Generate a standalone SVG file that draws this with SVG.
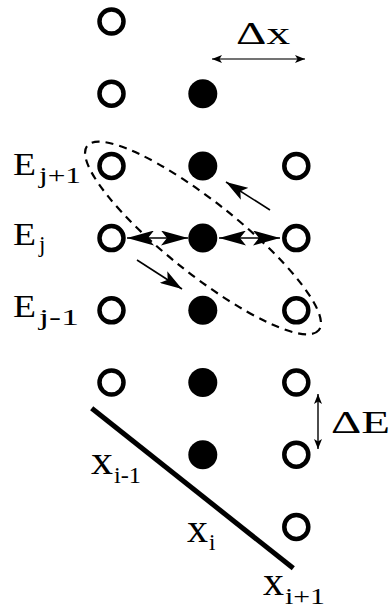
<svg xmlns="http://www.w3.org/2000/svg" width="391" height="608" viewBox="0 0 391 608">
<style>
.o{fill:none;stroke:#000;stroke-width:4.5}
.f{fill:#000}
.t{font-family:"Liberation Serif","DejaVu Serif",serif;fill:#000}
.big{font-size:32px}
.xl{font-size:40px}
.sub{font-size:23px}
.ar{stroke:#000;stroke-width:1.3;fill:none}
</style>
<defs>
<marker id="hb" viewBox="0 0 27 15" refX="27" refY="7.5" markerWidth="27" markerHeight="15" markerUnits="userSpaceOnUse" orient="auto-start-reverse"><path d="M0,0 L27,7.5 L0,15 L6,7.5 Z" fill="#000"/></marker>
<marker id="hm" viewBox="0 0 22 14" refX="22" refY="7" markerWidth="22" markerHeight="14" markerUnits="userSpaceOnUse" orient="auto-start-reverse"><path d="M0,0 L22,7 L0,14 L5,7 Z" fill="#000"/></marker>
<marker id="hs" viewBox="0 0 10 8" refX="10" refY="4" markerWidth="10" markerHeight="8" markerUnits="userSpaceOnUse" orient="auto-start-reverse"><path d="M0,0 L10,4 L0,8 L2.5,4 Z" fill="#000"/></marker>
</defs>
<rect width="391" height="608" fill="#fff"/>
<g id="col1">
<g id="a1"><circle class="o" cx="111.5" cy="21.5" r="12"/></g>
<g id="a2"><circle class="o" cx="111.5" cy="93.7" r="12"/></g>
<g id="a3"><circle class="o" cx="111.5" cy="165.9" r="12"/></g>
<g id="a4"><circle class="o" cx="111.5" cy="238.1" r="12"/></g>
<g id="a5"><circle class="o" cx="111.5" cy="310.3" r="12"/></g>
<g id="a6"><circle class="o" cx="111.5" cy="382.5" r="12"/></g>
</g>
<g id="col2">
<g id="b2"><circle class="f" cx="202.8" cy="93.7" r="14.5"/></g>
<g id="b3"><circle class="f" cx="202.8" cy="165.9" r="14.5"/></g>
<g id="b4"><circle class="f" cx="202.8" cy="238.1" r="14.5"/></g>
<g id="b5"><circle class="f" cx="202.8" cy="310.3" r="14.5"/></g>
<g id="b6"><circle class="f" cx="202.8" cy="382.5" r="14.5"/></g>
<g id="b7"><circle class="f" cx="202.8" cy="454.7" r="14.5"/></g>
</g>
<g id="col3">
<g id="c3"><circle class="o" cx="296.3" cy="165.9" r="12"/></g>
<g id="c4"><circle class="o" cx="296.3" cy="238.1" r="12"/></g>
<g id="c5"><circle class="o" cx="296.3" cy="310.3" r="12"/></g>
<g id="c6"><circle class="o" cx="296.3" cy="382.5" r="12"/></g>
<g id="c7"><circle class="o" cx="296.3" cy="454.7" r="12"/></g>
<g id="c8"><circle class="o" cx="296.3" cy="526.9" r="12"/></g>
</g>
<g id="stencil">
<ellipse cx="203" cy="238" rx="148" ry="36" transform="rotate(38.5 203 238)" fill="none" stroke="#000" stroke-width="2.2" stroke-dasharray="8 6"/>
</g>
<g id="boundary">
<line x1="91.7" y1="408.3" x2="293.3" y2="568.3" stroke="#000" stroke-width="5"/>
</g>
<g id="connectors">
<line class="ar" x1="127" y1="238" x2="188" y2="238" marker-start="url(#hb)" marker-end="url(#hb)"/>
<line class="ar" x1="219" y1="238" x2="280" y2="238" marker-start="url(#hb)" marker-end="url(#hb)"/>
<line class="ar" style="stroke-width:1.6" x1="270" y1="210" x2="226" y2="182" marker-end="url(#hm)"/>
<line class="ar" style="stroke-width:1.6" x1="137" y1="260" x2="182" y2="289" marker-end="url(#hm)"/>
<line class="ar" style="stroke:#444;stroke-width:1.6" x1="212" y1="59" x2="305" y2="59" marker-start="url(#hs)" marker-end="url(#hs)"/>
<line class="ar" style="stroke-width:1.4" x1="318" y1="394" x2="318" y2="449" marker-start="url(#hs)" marker-end="url(#hs)"/>
</g>
<g id="labels">
<text class="t big" x="236" y="44" textLength="54" lengthAdjust="spacingAndGlyphs">Δx</text>
<text class="t big" x="331" y="433" textLength="59" lengthAdjust="spacingAndGlyphs">ΔE</text>
<text class="t big" x="13" y="175" textLength="23" lengthAdjust="spacingAndGlyphs">E</text>
<text class="t sub" x="39" y="183" textLength="42" lengthAdjust="spacingAndGlyphs">j+1</text>
<text class="t big" x="13" y="245" textLength="23" lengthAdjust="spacingAndGlyphs">E</text>
<text class="t sub" x="39" y="252">j</text>
<text class="t big" x="13" y="317" textLength="23" lengthAdjust="spacingAndGlyphs">E</text>
<text class="t sub" x="39" y="325" textLength="40" lengthAdjust="spacingAndGlyphs">j-1</text>
<text class="t xl" x="91" y="474" textLength="22" lengthAdjust="spacingAndGlyphs">x</text>
<text class="t sub" x="114" y="483" textLength="27" lengthAdjust="spacingAndGlyphs">i-1</text>
<text class="t xl" x="187" y="542" textLength="21" lengthAdjust="spacingAndGlyphs">x</text>
<text class="t sub" x="209" y="550">i</text>
<text class="t xl" x="263" y="595" textLength="21" lengthAdjust="spacingAndGlyphs">x</text>
<text class="t sub" x="285" y="604" textLength="40" lengthAdjust="spacingAndGlyphs">i+1</text>
</g>
</svg>
